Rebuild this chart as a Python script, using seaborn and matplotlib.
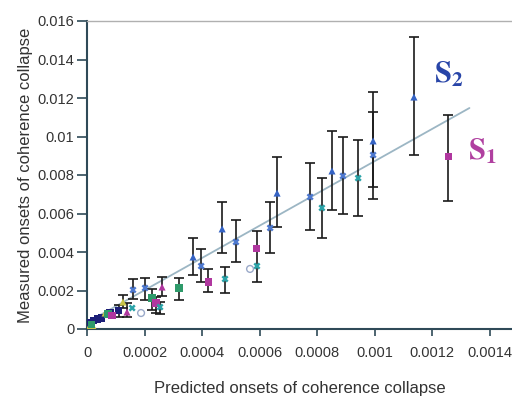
import numpy as np
import pandas as pd
import matplotlib
matplotlib.use("Agg")
import matplotlib.pyplot as plt
import seaborn as sns

sns.set_theme(style="white")
plt.rcParams['font.family'] = ['Liberation Sans', 'DejaVu Sans']
plt.rcParams['mathtext.fontset'] = 'stix'

nan = np.nan

# ---- data ----
navy_x = [0.000003, 0.00001, 0.000024, 0.000038, 0.000049, 0.00008, 0.000111]
navy_y = [0.00031, 0.00036, 0.00042, 0.00052, 0.00057, 0.00083, 0.00094]
navy_lo = [nan, nan, nan, nan, nan, nan, 0.00062]
navy_hi = [nan, nan, nan, nan, nan, nan, 0.00125]

yellow_x = [0.000007, 0.000021, 0.000063, 0.000125]
yellow_y = [0.0001, 0.00016, 0.00083, 0.0014]
yellow_lo = [nan, nan, nan, 0.00109]
yellow_hi = [nan, nan, nan, 0.00177]

green_x = [0.000017, 0.000073, 0.000226, 0.00032]
green_y = [0.00021, 0.00078, 0.00161, 0.00213]
green_lo = [nan, nan, 0.00099, 0.00151]
green_hi = [nan, nan, 0.00208, 0.00265]

magenta_x = [0.000087, 0.00024, 0.000421, 0.000591, 0.001256]
magenta_y = [0.00068, 0.00135, 0.00244, 0.00416, 0.00894]
magenta_lo = [nan, 0.00083, 0.00192, 0.00244, 0.00665]
magenta_hi = [nan, 0.00166, 0.00312, 0.00509, 0.01112]

magtri_x = [0.000139, 0.000261]
magtri_y = [0.00088, 0.00218]
magtri_lo = [0.00062, 0.00171]
magtri_hi = [0.00135, 0.0027]

cyan_x = [0.000157, 0.000254, 0.00048, 0.000591, 0.000817, 0.000943]
cyan_y = [0.00109, 0.00114, 0.0026, 0.00327, 0.00629, 0.00784]
cyan_lo = [nan, 0.00078, 0.00187, nan, 0.00473, 0.00587]
cyan_hi = [nan, 0.0014, 0.00322, nan, 0.00784, 0.00982]

bluex_x = [0.00016, 0.000202, 0.000397, 0.000518, 0.000637, 0.000776, 0.00089, 0.000995]
bluex_y = [0.00203, 0.00213, 0.00327, 0.00452, 0.00525, 0.00686, 0.00795, 0.00904]
bluex_lo = [0.00156, 0.00151, 0.00244, 0.00348, 0.00395, 0.00514, 0.00597, 0.00675]
bluex_hi = [0.00260, 0.00265, 0.00416, 0.00566, 0.0066, 0.00862, 0.00997, 0.01127]

bluetri_x = [0.000369, 0.00047, 0.000661, 0.000852, 0.000995, 0.001137]
bluetri_y = [0.00374, 0.0052, 0.00706, 0.00821, 0.00977, 0.01205]
bluetri_lo = [0.00281, 0.00395, 0.0053, 0.00618, 0.00738, 0.00904]
bluetri_hi = [0.00473, 0.0066, 0.00894, 0.01029, 0.01231, 0.01517]

circle_x = [0.000188, 0.000567]
circle_y = [0.00083, 0.00312]

trend_x = [0.0, 0.00133]
trend_y = [0.00034, 0.01148]

xticks = [0, 0.0002, 0.0004, 0.0006, 0.0008, 0.001, 0.0012, 0.0014]
xtick_labels = ["0", "0.0002", "0.0004", "0.0006", "0.0008", "0.001", "0.0012", "0.0014"]
yticks = [0, 0.002, 0.004, 0.006, 0.008, 0.01, 0.012, 0.014, 0.016]
ytick_labels = ["0", "0.002", "0.004", "0.006", "0.008", "0.01", "0.012", "0.014", "0.016"]

# ---- build table ----
series = [
    ("navy", navy_x, navy_y, navy_lo, navy_hi),
    ("yellow", yellow_x, yellow_y, yellow_lo, yellow_hi),
    ("green", green_x, green_y, green_lo, green_hi),
    ("magenta", magenta_x, magenta_y, magenta_lo, magenta_hi),
    ("magtri", magtri_x, magtri_y, magtri_lo, magtri_hi),
    ("cyan", cyan_x, cyan_y, cyan_lo, cyan_hi),
    ("bluex", bluex_x, bluex_y, bluex_lo, bluex_hi),
    ("bluetri", bluetri_x, bluetri_y, bluetri_lo, bluetri_hi),
    ("circle", circle_x, circle_y, [nan] * len(circle_x), [nan] * len(circle_x)),
]
rows = []
for name, xs, ys, los, his in series:
    for x, y, lo, hi in zip(xs, ys, los, his):
        rows.append(dict(series=name, x=x, y=y, lo=lo, hi=hi))
df = pd.DataFrame(rows)

palette = {"navy": "#1c1f78", "yellow": "#c9c447", "green": "#2e9a6a",
           "magenta": "#b0379f", "magtri": "#b0379f", "cyan": "#2aa3a8",
           "bluex": "#4d78cf", "bluetri": "#3563c4", "circle": "#9aa9c9"}
markers = {"navy": "s", "yellow": "^", "green": "s", "magenta": "s",
           "magtri": "^", "cyan": "X", "bluex": "X", "bluetri": "^", "circle": "o"}

fig = plt.figure(figsize=(5.12, 3.98), dpi=100)
ax = fig.add_axes([87 / 512, 69 / 398, 1 - 87 / 512, 308 / 398])

# trend line
sns.lineplot(x=trend_x, y=trend_y, ax=ax, color="#9cb6c4", lw=1.3, zorder=1)

# error bars
eb = df.dropna(subset=["lo", "hi"])
ax.errorbar(eb["x"], eb["y"], yerr=[eb["y"] - eb["lo"], eb["hi"] - eb["y"]],
            fmt="none", ecolor="#1a1a1a", elinewidth=1.2, capsize=3.5,
            capthick=1.2, zorder=2)

# markers
solid = df[df["series"] != "circle"]
sns.scatterplot(data=solid, x="x", y="y", hue="series", style="series",
                palette=palette, markers=markers, s=26, linewidth=0.3,
                edgecolor="none", ax=ax, legend=False, zorder=3)
circ = df[df["series"] == "circle"]
ax.scatter(circ["x"], circ["y"], s=24, facecolors="none",
           edgecolors=palette["circle"], linewidths=1.0, zorder=3)

ax.set_xlim(0, 0.001478)
ax.set_ylim(0, 0.016)
ax.set_xticks(xticks)
ax.set_xticklabels(xtick_labels)
ax.set_yticks(yticks)
ax.set_yticklabels(ytick_labels)

ax.spines["right"].set_visible(False)
ax.spines["top"].set_color("#b0b0b0")
ax.spines["top"].set_linewidth(1.0)
for s in ["left", "bottom"]:
    ax.spines[s].set_color("#2f4a58")
    ax.spines[s].set_linewidth(1.5)

ax.tick_params(axis="y", direction="out", length=7, width=1.2, color="#2f4a58",
               labelsize=10.5, labelcolor="#333333", pad=2, left=True)
ax.tick_params(axis="x", direction="out", length=5, width=1.2, color="#2f4a58",
               labelsize=10.5, labelcolor="#333333", pad=7, bottom=True)

ax.set_xlabel("Predicted onsets of coherence collapse", fontsize=12,
              color="#333333", labelpad=15)
ax.set_ylabel("Measured onsets of coherence collapse", fontsize=12,
              color="#333333", labelpad=3)

ax.text(0.001207, 0.01278, r"$\mathbf{S}_{\mathbf{2}}$", color="#2845a8",
        fontsize=22, ha="left", va="baseline")
ax.text(0.001325, 0.00878, r"$\mathbf{S}_{\mathbf{1}}$", color="#b040a0",
        fontsize=22, ha="left", va="baseline")

fig.savefig("out.png", dpi=100)
